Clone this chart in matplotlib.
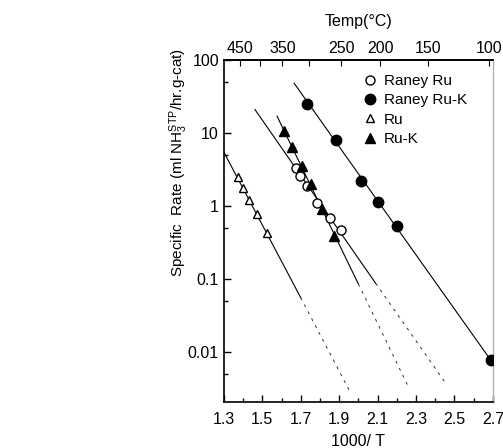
import numpy as np
import matplotlib
matplotlib.use('Agg')
import matplotlib.pyplot as plt

plt.rcParams['font.family'] = ['Liberation Sans', 'DejaVu Sans']
plt.rcParams['mathtext.fontset'] = 'custom'
plt.rcParams['mathtext.rm'] = 'Liberation Sans'
plt.rcParams['mathtext.it'] = 'Liberation Sans:italic'

# measured rates vs 1000/T
raney_ru_x = [1.676, 1.697, 1.734, 1.786, 1.854, 1.911]
raney_ru_y = [3.3, 2.6, 1.9, 1.1, 0.68, 0.47]
raney_ruk_x = [1.734, 1.885, 2.016, 2.10, 2.20, 2.69]
raney_ruk_y = [25, 8.0, 2.2, 1.13, 0.53, 0.0078]
ru_x = [1.373, 1.40, 1.43, 1.474, 1.525]
ru_y = [2.5, 1.76, 1.2, 0.78, 0.43]
ruk_x = [1.613, 1.656, 1.706, 1.753, 1.81, 1.875]
ruk_y = [10.6, 6.4, 3.5, 2.0, 0.91, 0.39]

# Arrhenius fit lines: solid part then extrapolated (dashed) part
ru_fit_x = [1.30, 1.70, 1.953]
ru_fit_y = [5.5, 0.056, 0.003]
ruk_fit_x = [1.577, 2.0, 2.255]
ruk_fit_y = [17, 0.086, 0.0036]
raney_ru_fit_x = [1.462, 2.09, 2.46]
raney_ru_fit_y = [21, 0.088, 0.0036]
raney_ruk_fit_x = [1.666, 2.70]
raney_ruk_fit_y = [48, 0.0071]

x_ticks = [1.3, 1.5, 1.7, 1.9, 2.1, 2.3, 2.5, 2.7]
x_ticklabels = ['1.3', '1.5', '1.7', '1.9', '2.1', '2.3', '2.5', '2.7']
y_ticks = [0.01, 0.1, 1, 10, 100]
y_ticklabels = ['0.01', '0.1', '1', '10', '100']
temp_ticks = [450, 400, 350, 300, 250, 200, 150, 100]
temp_labels = ['450', '', '350', '', '250', '200', '150', '100']

fig = plt.figure(figsize=(5.03, 4.48), dpi=100)
ax = fig.add_axes([0.445, 0.103, 0.535, 0.763])

lw = 0.8
for fx, fy in [(ru_fit_x, ru_fit_y), (ruk_fit_x, ruk_fit_y),
               (raney_ru_fit_x, raney_ru_fit_y)]:
    ax.plot(fx[:2], fy[:2], color='black', lw=lw)
    ax.plot(fx[1:], fy[1:], color='#333333', lw=0.7, ls=(0, (3, 5)))
ax.plot(raney_ruk_fit_x, raney_ruk_fit_y, color='black', lw=lw)

ax.plot(raney_ru_x, raney_ru_y, 'o', ms=6.5, mfc='white', mec='black', mew=1.0,
        label='Raney Ru', zorder=3)
ax.plot(raney_ruk_x, raney_ruk_y, 'o', ms=7.5, mfc='black', mec='black',
        label='Raney Ru-K', zorder=3)
ax.plot(ru_x, ru_y, '^', ms=5.5, mfc='white', mec='black', mew=1.0,
        label='Ru', zorder=3)
ax.plot(ruk_x, ruk_y, '^', ms=6.5, mfc='black', mec='black',
        label='Ru-K', zorder=3)

ax.set_yscale('log')
ax.set_xlim(1.3, 2.7)
ax.set_ylim(0.0021, 100)
ax.set_xticks(x_ticks)
ax.set_xticklabels(x_ticklabels)
ax.set_xticks(np.arange(1.4, 2.7, 0.2), minor=True)
ax.set_yticks(y_ticks)
ax.set_yticklabels(y_ticklabels)
ax.set_yticks([0.005, 0.05, 0.5, 5, 50], minor=True)
ax.yaxis.set_minor_formatter(plt.NullFormatter())
ax.tick_params(which='both', direction='in', labelsize=11.5, width=1.0)
ax.tick_params(which='major', length=5)
ax.tick_params(which='minor', length=3)
ax.tick_params(axis='x', pad=7)

for side in ['left', 'bottom', 'top']:
    ax.spines[side].set_linewidth(1.2)
ax.spines['right'].set_color('#b0b0b0')
ax.spines['right'].set_linewidth(1.0)

ax.set_xlabel('1000/ T', fontsize=11.5, labelpad=5)
ax.set_ylabel(r'Specific  Rate (ml NH$_3^{\rm STP}$/hr.g-cat)', fontsize=11)
ax.yaxis.set_label_coords(-0.125, 0.7)

top = ax.secondary_xaxis('top', functions=(lambda x: x, lambda x: x))
top.set_xticks([1000.0 / (t + 273.15) for t in temp_ticks])
top.set_xticklabels(temp_labels)
top.tick_params(direction='in', length=4, labelsize=11.5, pad=3)
top.spines['top'].set_linewidth(1.2)
top.set_xlabel('Temp(°C)', fontsize=11.5, labelpad=11)

ax.legend(loc='upper left', bbox_to_anchor=(0.47, 0.99), frameon=False,
          fontsize=11, handletextpad=0.3, labelspacing=0.35,
          handlelength=1.2, borderpad=0.2)

fig.savefig('out.png', dpi=100)
